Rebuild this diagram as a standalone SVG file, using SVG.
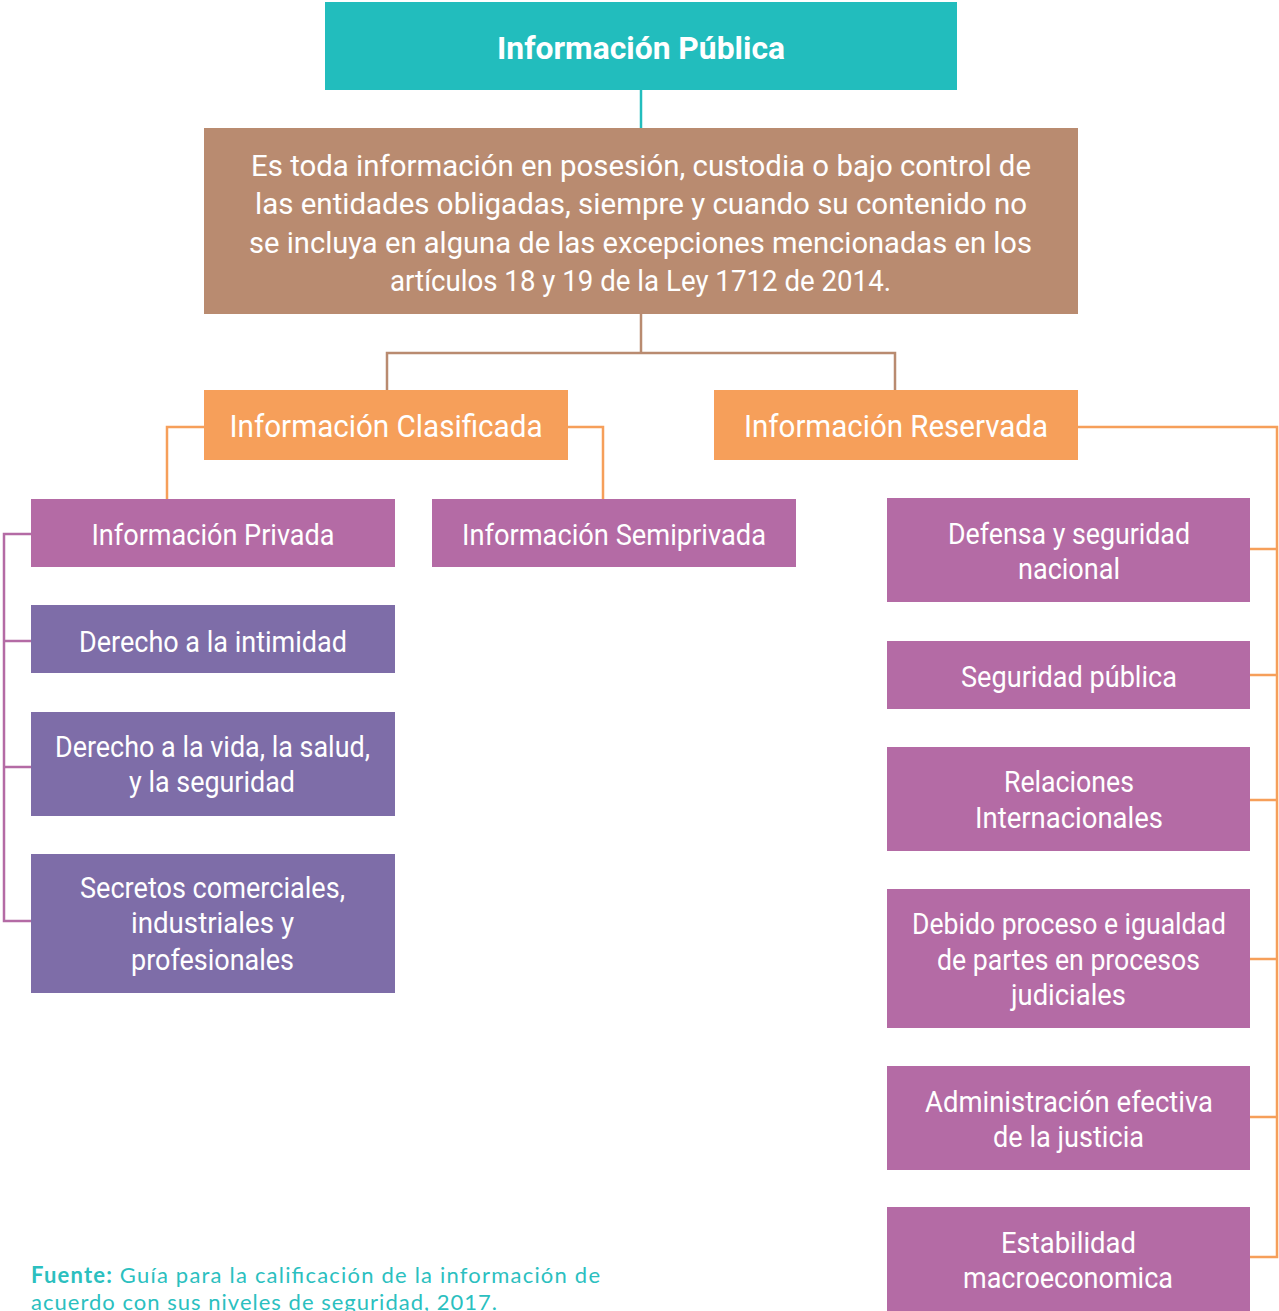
<svg xmlns="http://www.w3.org/2000/svg" width="1279" height="1311" viewBox="0 0 1279 1311">
<style>
.t{font-family:Roboto,"Liberation Sans",sans-serif;fill:#fff;text-anchor:middle;}
.tb{font-weight:bold;font-size:32px;}
.tm{font-size:30px;}
.to{font-size:32px;}
.tp{font-size:30px;}
.c{fill:none;stroke-width:2.5;}
.foot{font-family:Lato,"Liberation Sans",sans-serif;font-size:22px;fill:#2BBFBF;}
</style>
<rect width="1279" height="1311" fill="#fff"/>
<g id="connectors">
<path class="c" stroke="#22BDBD" d="M641 90V128"/>
<path class="c" stroke="#B98B70" d="M641 314V353M387 390V353H895V390"/>
<path class="c" stroke="#F69F5A" d="M204 427H167V499M568 427H603V499"/>
<path class="c" stroke="#F69F5A" d="M1078 427H1277V1257H1250M1250 549H1277M1250 675H1277M1250 800H1277M1250 959H1277M1250 1117H1277"/>
<path class="c" stroke="#B46BA5" d="M31 534H4V921H31M4 641H31M4 767H31"/>
</g>
<g id="publica">
<rect x="325" y="2" width="632" height="88" fill="#22BDBD"/>
<text class="t tb" x="641" y="59" textLength="288" lengthAdjust="spacingAndGlyphs">Información Pública</text>
</g>
<g id="definicion">
<rect x="204" y="128" width="874" height="186" fill="#B98B70"/>
<text class="t tm" x="641" y="176" textLength="780" lengthAdjust="spacingAndGlyphs">Es toda información en posesión, custodia o bajo control de</text>
<text class="t tm" x="641" y="214" textLength="772" lengthAdjust="spacingAndGlyphs">las entidades obligadas, siempre y cuando su contenido no</text>
<text class="t tm" x="640.5" y="253" textLength="783" lengthAdjust="spacingAndGlyphs">se incluya en alguna de las excepciones mencionadas en los</text>
<text class="t tm" x="640.5" y="291" textLength="501" lengthAdjust="spacingAndGlyphs">artículos 18 y 19 de la Ley 1712 de 2014.</text>
</g>
<g id="clasificada">
<rect x="204" y="390" width="364" height="70" fill="#F69F5A"/>
<text class="t to" x="386" y="437" textLength="313" lengthAdjust="spacingAndGlyphs">Información Clasificada</text>
</g>
<g id="reservada">
<rect x="714" y="390" width="364" height="70" fill="#F69F5A"/>
<text class="t to" x="896" y="437" textLength="304" lengthAdjust="spacingAndGlyphs">Información Reservada</text>
</g>
<g id="privada">
<rect x="31" y="499" width="364" height="68" fill="#B46BA5"/>
<text class="t tp" x="213" y="545" textLength="243" lengthAdjust="spacingAndGlyphs">Información Privada</text>
</g>
<g id="semiprivada">
<rect x="432" y="499" width="364" height="68" fill="#B46BA5"/>
<text class="t tp" x="614" y="545" textLength="304" lengthAdjust="spacingAndGlyphs">Información Semiprivada</text>
</g>
<g id="intimidad">
<rect x="31" y="605" width="364" height="68" fill="#7E6DA8"/>
<text class="t tp" x="213" y="652" textLength="268" lengthAdjust="spacingAndGlyphs">Derecho a la intimidad</text>
</g>
<g id="vida">
<rect x="31" y="712" width="364" height="104" fill="#7E6DA8"/>
<text class="t tp" x="212.5" y="757" textLength="315" lengthAdjust="spacingAndGlyphs">Derecho a la vida, la salud,</text>
<text class="t tp" x="212" y="792" textLength="166" lengthAdjust="spacingAndGlyphs">y la seguridad</text>
</g>
<g id="secretos">
<rect x="31" y="854" width="364" height="139" fill="#7E6DA8"/>
<text class="t tp" x="212.5" y="898" textLength="265" lengthAdjust="spacingAndGlyphs">Secretos comerciales,</text>
<text class="t tp" x="212.5" y="933" textLength="163" lengthAdjust="spacingAndGlyphs">industriales y</text>
<text class="t tp" x="212.5" y="970" textLength="163" lengthAdjust="spacingAndGlyphs">profesionales</text>
</g>
<g id="defensa">
<rect x="887" y="498" width="363" height="104" fill="#B46BA5"/>
<text class="t tp" x="1069" y="544" textLength="242" lengthAdjust="spacingAndGlyphs">Defensa y seguridad</text>
<text class="t tp" x="1069" y="579" textLength="102" lengthAdjust="spacingAndGlyphs">nacional</text>
</g>
<g id="seguridad-publica">
<rect x="887" y="641" width="363" height="68" fill="#B46BA5"/>
<text class="t tp" x="1069" y="687" textLength="216" lengthAdjust="spacingAndGlyphs">Seguridad pública</text>
</g>
<g id="relaciones">
<rect x="887" y="747" width="363" height="104" fill="#B46BA5"/>
<text class="t tp" x="1069" y="792" textLength="130" lengthAdjust="spacingAndGlyphs">Relaciones</text>
<text class="t tp" x="1069" y="828" textLength="188" lengthAdjust="spacingAndGlyphs">Internacionales</text>
</g>
<g id="debido-proceso">
<rect x="887" y="889" width="363" height="139" fill="#B46BA5"/>
<text class="t tp" x="1069" y="934" textLength="314" lengthAdjust="spacingAndGlyphs">Debido proceso e igualdad</text>
<text class="t tp" x="1068.5" y="970" textLength="263" lengthAdjust="spacingAndGlyphs">de partes en procesos</text>
<text class="t tp" x="1068.5" y="1005" textLength="115" lengthAdjust="spacingAndGlyphs">judiciales</text>
</g>
<g id="administracion">
<rect x="887" y="1066" width="363" height="104" fill="#B46BA5"/>
<text class="t tp" x="1069" y="1112" textLength="288" lengthAdjust="spacingAndGlyphs">Administración efectiva</text>
<text class="t tp" x="1068.5" y="1147" textLength="151" lengthAdjust="spacingAndGlyphs">de la justicia</text>
</g>
<g id="estabilidad">
<rect x="887" y="1207" width="363" height="104" fill="#B46BA5"/>
<text class="t tp" x="1068.5" y="1253" textLength="135" lengthAdjust="spacingAndGlyphs">Estabilidad</text>
<text class="t tp" x="1068" y="1288" textLength="210" lengthAdjust="spacingAndGlyphs">macroeconomica</text>
</g>
<g id="fuente">
<text class="foot" x="31" y="1283" textLength="569" lengthAdjust="spacing"><tspan font-weight="bold">Fuente:</tspan> Guía para la calificación de la información de</text>
<text class="foot" x="31" y="1310" textLength="466" lengthAdjust="spacing">acuerdo con sus niveles de seguridad, 2017.</text>
</g>
</svg>
